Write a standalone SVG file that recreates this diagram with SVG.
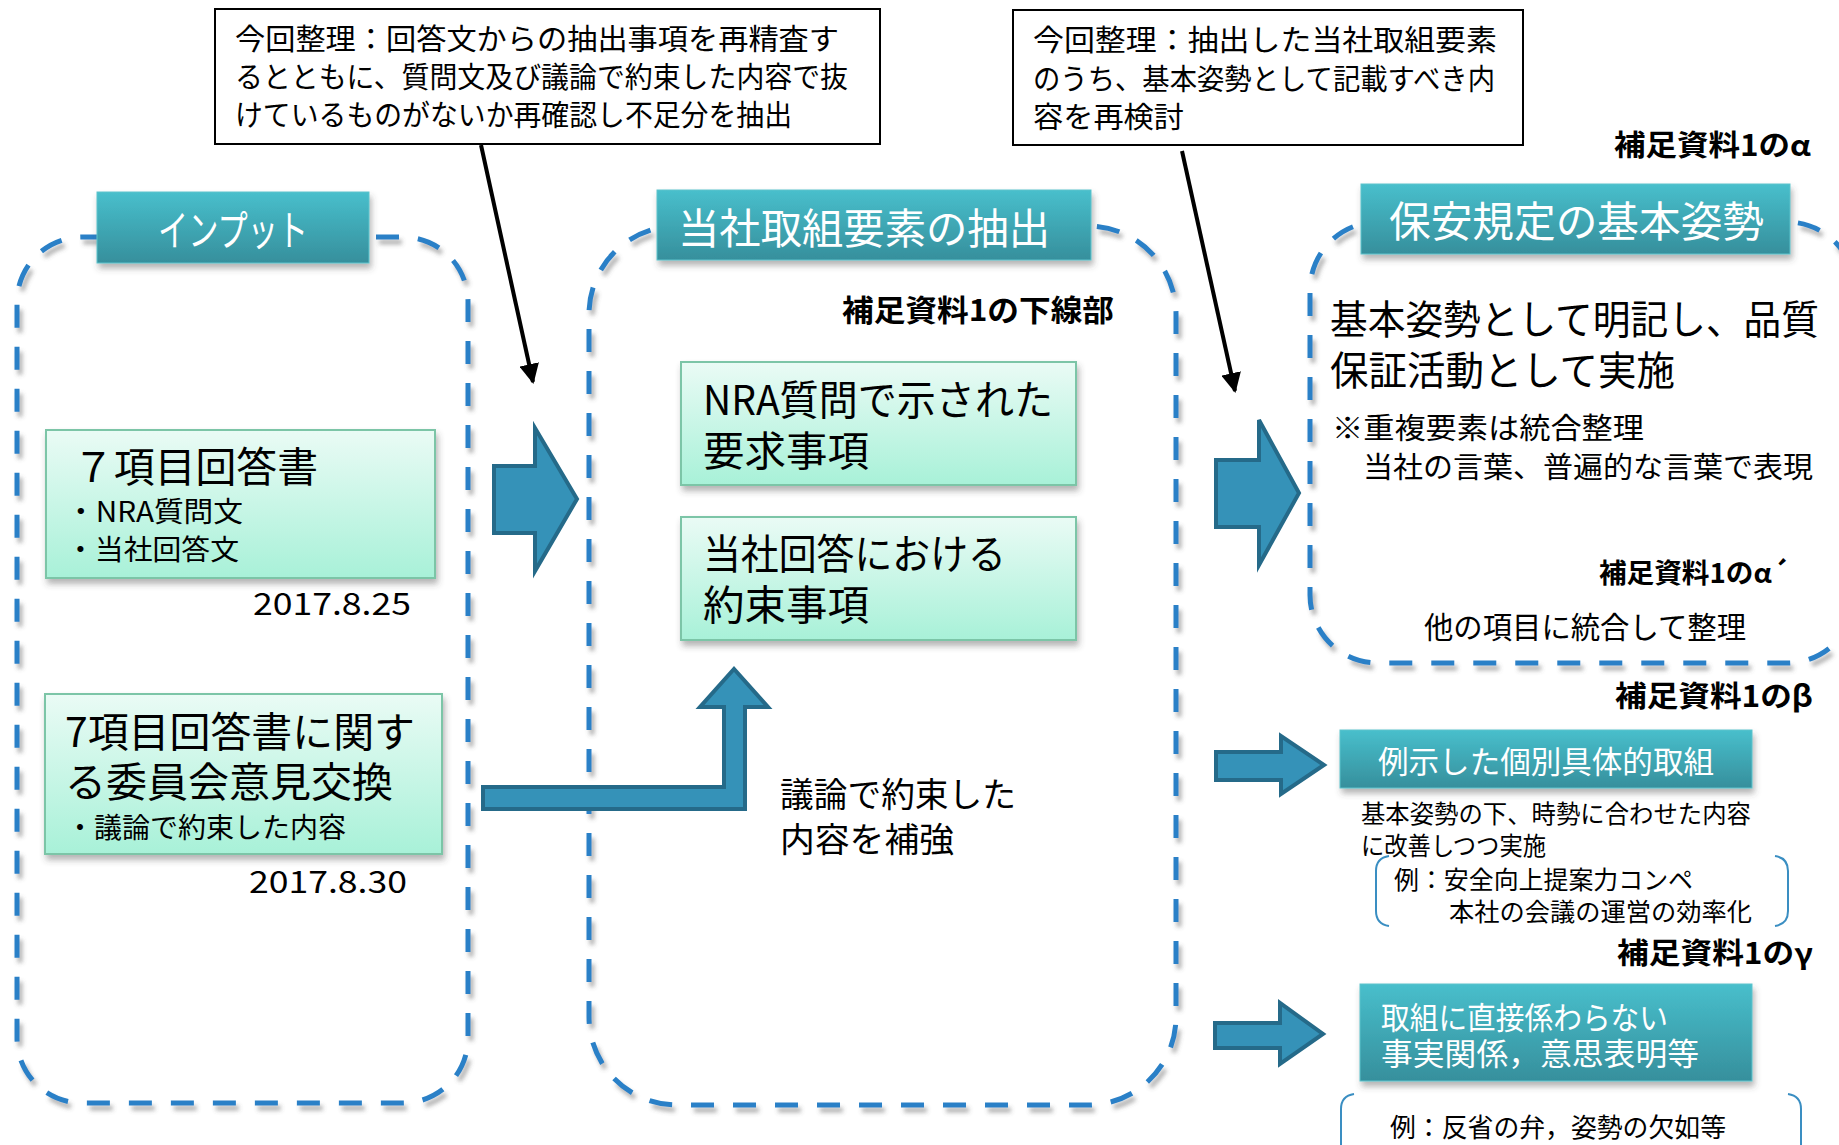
<svg xmlns="http://www.w3.org/2000/svg" width="1839" height="1145" viewBox="0 0 1839 1145">
<defs>
<linearGradient id="gHdr" x1="0" y1="0" x2="0" y2="1">
<stop offset="0" stop-color="#48BFCC"/>
<stop offset="1" stop-color="#368F9C"/>
</linearGradient>
<linearGradient id="gGrn" x1="0" y1="0" x2="0" y2="1">
<stop offset="0" stop-color="#EAFBF5"/>
<stop offset="1" stop-color="#A8F1D8"/>
</linearGradient>
<filter id="shDash" x="-5%" y="-5%" width="110%" height="110%">
<feDropShadow dx="3" dy="5" stdDeviation="2" flood-color="#555" flood-opacity="0.45"/>
</filter>
<filter id="shBox" x="-5%" y="-10%" width="110%" height="130%">
<feDropShadow dx="2" dy="5" stdDeviation="3" flood-color="#444" flood-opacity="0.4"/>
</filter>
<marker id="ah" viewBox="0 0 10 10" refX="9" refY="5" markerWidth="5" markerHeight="5" orient="auto" markerUnits="strokeWidth">
<path d="M0,0 L10,5 L0,10 Z" fill="#000"/>
</marker>
<style>
text { font-family: 'Noto Sans CJK JP', 'Noto Sans', sans-serif; fill: #000; }
.dash { fill: none; stroke: #2A80C7; stroke-width: 5; stroke-dasharray: 23 19; filter: url(#shDash); }
.hdr { fill: url(#gHdr); stroke: #5CC3CC; stroke-width: 1; filter: url(#shBox); }
.grn { fill: url(#gGrn); stroke: #7CC5A7; stroke-width: 2; filter: url(#shBox); }
.callout { fill: #fff; stroke: #000; stroke-width: 2; }
.big { fill: #3592B8; stroke: #256A89; stroke-width: 4; stroke-linejoin: miter; }
.brk { fill: none; stroke: #3A8EC2; stroke-width: 2; }
.ht { fill: #fff; }
.lbl { font-weight: bold; }
</style>
</defs>
<rect width="1839" height="1145" fill="#fff"/>

<g id="containers">
<rect id="input-area" class="dash" x="17" y="237" width="451" height="866" rx="65" ry="65"/>
<rect id="extract-area" class="dash" x="589" y="226" width="587" height="879" rx="88" ry="88"/>
<rect id="basic-area" class="dash" x="1310" y="222" width="545" height="441" rx="68" ry="68"/>
</g>

<g id="node-callout1">
<rect class="callout" x="215" y="9" width="665" height="135"/>
<text x="235" y="50" font-size="29" textLength="604" lengthAdjust="spacingAndGlyphs">今回整理：回答文からの抽出事項を再精査す</text>
<text x="235" y="88" font-size="29" textLength="613" lengthAdjust="spacingAndGlyphs">るとともに、質問文及び議論で約束した内容で抜</text>
<text x="235" y="126" font-size="29" textLength="557" lengthAdjust="spacingAndGlyphs">けているものがないか再確認し不足分を抽出</text>
</g>

<g id="node-callout2">
<rect class="callout" x="1013" y="10" width="510" height="135"/>
<text x="1033" y="51" font-size="29" textLength="464" lengthAdjust="spacingAndGlyphs">今回整理：抽出した当社取組要素</text>
<text x="1033" y="90" font-size="29" textLength="462" lengthAdjust="spacingAndGlyphs">のうち、基本姿勢として記載すべき内</text>
<text x="1033" y="128" font-size="29" textLength="151" lengthAdjust="spacingAndGlyphs">容を再検討</text>
</g>

<g id="node-input-header">
<rect class="hdr" x="97" y="192" width="272" height="71"/>
<text class="ht" x="158" y="246" font-size="42" textLength="150" lengthAdjust="spacingAndGlyphs">インプット</text>
</g>

<g id="node-extract-header">
<rect class="hdr" x="657" y="190" width="434" height="70"/>
<text class="ht" x="678" y="244" font-size="42" textLength="372" lengthAdjust="spacingAndGlyphs">当社取組要素の抽出</text>
</g>

<g id="node-basic-header">
<rect class="hdr" x="1361" y="184" width="429" height="70"/>
<text class="ht" x="1389" y="237" font-size="42" textLength="375" lengthAdjust="spacingAndGlyphs">保安規定の基本姿勢</text>
</g>

<g id="node-answer">
<rect class="grn" x="46" y="430" width="389" height="148"/>
<text x="73" y="482" font-size="41" textLength="245" lengthAdjust="spacingAndGlyphs">７項目回答書</text>
<text x="66" y="522" font-size="28" textLength="177" lengthAdjust="spacingAndGlyphs">・NRA質問文</text>
<text x="66" y="560" font-size="28" textLength="173" lengthAdjust="spacingAndGlyphs">・当社回答文</text>
<text x="253" y="615" font-size="30" textLength="158" lengthAdjust="spacingAndGlyphs">2017.8.25</text>
</g>

<g id="node-committee">
<rect class="grn" x="45" y="694" width="397" height="160"/>
<text x="65" y="747" font-size="41" textLength="350" lengthAdjust="spacingAndGlyphs">7項目回答書に関す</text>
<text x="65" y="797" font-size="41" textLength="328" lengthAdjust="spacingAndGlyphs">る委員会意見交換</text>
<text x="66" y="838" font-size="28" textLength="280" lengthAdjust="spacingAndGlyphs">・議論で約束した内容</text>
<text x="249" y="893" font-size="30" textLength="158" lengthAdjust="spacingAndGlyphs">2017.8.30</text>
</g>

<g id="node-nra">
<rect class="grn" x="681" y="362" width="395" height="123"/>
<text x="703" y="415" font-size="41" textLength="350" lengthAdjust="spacingAndGlyphs">NRA質問で示された</text>
<text x="703" y="466" font-size="41" textLength="166" lengthAdjust="spacingAndGlyphs">要求事項</text>
</g>

<g id="node-promise">
<rect class="grn" x="681" y="517" width="395" height="123"/>
<text x="703" y="569" font-size="41" textLength="303" lengthAdjust="spacingAndGlyphs">当社回答における</text>
<text x="703" y="620" font-size="41" textLength="166" lengthAdjust="spacingAndGlyphs">約束事項</text>
</g>

<g id="node-extract-label">
<text class="lbl" x="842" y="321" font-size="30" textLength="272" lengthAdjust="spacingAndGlyphs">補足資料1の下線部</text>
<text x="780" y="807" font-size="34" textLength="236" lengthAdjust="spacingAndGlyphs">議論で約束した</text>
<text x="780" y="852" font-size="34" textLength="174" lengthAdjust="spacingAndGlyphs">内容を補強</text>
</g>

<g id="node-basic-text">
<text class="lbl" x="1614" y="156" font-size="29" textLength="197" lengthAdjust="spacingAndGlyphs">補足資料1のα</text>
<text x="1330" y="334" font-size="40" textLength="489" lengthAdjust="spacingAndGlyphs">基本姿勢として明記し、品質</text>
<text x="1330" y="385" font-size="40" textLength="345" lengthAdjust="spacingAndGlyphs">保証活動として実施</text>
<text x="1332" y="439" font-size="29" textLength="312" lengthAdjust="spacingAndGlyphs">※重複要素は統合整理</text>
<text x="1363" y="478" font-size="29" textLength="450" lengthAdjust="spacingAndGlyphs">当社の言葉、普遍的な言葉で表現</text>
<text class="lbl" x="1599" y="583" font-size="27" textLength="190" lengthAdjust="spacingAndGlyphs">補足資料1のα´</text>
<text x="1424" y="638" font-size="30" textLength="322" lengthAdjust="spacingAndGlyphs">他の項目に統合して整理</text>
</g>

<g id="node-beta">
<text class="lbl" x="1615" y="707" font-size="29" textLength="198" lengthAdjust="spacingAndGlyphs">補足資料1のβ</text>
<rect class="hdr" x="1340" y="730" width="412" height="58"/>
<text class="ht" x="1378" y="773" font-size="31" textLength="336" lengthAdjust="spacingAndGlyphs">例示した個別具体的取組</text>
<text x="1361" y="823" font-size="25" textLength="390" lengthAdjust="spacingAndGlyphs">基本姿勢の下、時勢に合わせた内容</text>
<text x="1361" y="855" font-size="25" textLength="185" lengthAdjust="spacingAndGlyphs">に改善しつつ実施</text>
<path class="brk" d="M1389,856 Q1376,858 1376,871 V911 Q1376,924 1389,926"/>
<path class="brk" d="M1775,856 Q1788,858 1788,871 V911 Q1788,924 1775,926"/>
<text x="1394" y="889" font-size="25" textLength="299" lengthAdjust="spacingAndGlyphs">例：安全向上提案力コンペ</text>
<text x="1449" y="921" font-size="25" textLength="303" lengthAdjust="spacingAndGlyphs">本社の会議の運営の効率化</text>
</g>

<g id="node-gamma">
<text class="lbl" x="1617" y="964" font-size="29" textLength="196" lengthAdjust="spacingAndGlyphs">補足資料1のγ</text>
<rect class="hdr" x="1360" y="984" width="392" height="97"/>
<text class="ht" x="1381" y="1029" font-size="31" textLength="287" lengthAdjust="spacingAndGlyphs">取組に直接係わらない</text>
<text class="ht" x="1381" y="1065" font-size="31" textLength="318" lengthAdjust="spacingAndGlyphs">事実関係，意思表明等</text>
<path class="brk" d="M1354,1094 Q1341,1096 1341,1109 V1150"/>
<path class="brk" d="M1788,1094 Q1801,1096 1801,1109 V1150"/>
<text x="1390" y="1137" font-size="26" textLength="336" lengthAdjust="spacingAndGlyphs">例：反省の弁，姿勢の欠如等</text>
</g>

<g id="connectors">
<line x1="481" y1="145" x2="533" y2="382" stroke="#000" stroke-width="4" marker-end="url(#ah)"/>
<line x1="1182" y1="151" x2="1235" y2="391" stroke="#000" stroke-width="4" marker-end="url(#ah)"/>
<polygon class="big" points="494,466 535,466 535,428 577,499 535,571 535,533 494,533"/>
<polygon class="big" points="1216,460 1259,460 1259,420 1299,493 1259,565 1259,527 1216,527"/>
<polygon class="big" points="1216,752 1281,752 1281,736 1324,765 1281,794 1281,780 1216,780"/>
<polygon class="big" points="1215,1023 1280,1023 1280,1003 1323,1034 1280,1064 1280,1048 1215,1048"/>
<polygon class="big" points="483,787 724,787 724,707 700,707 734,669 768,707 745,707 745,809 483,809"/>
</g>
</svg>
